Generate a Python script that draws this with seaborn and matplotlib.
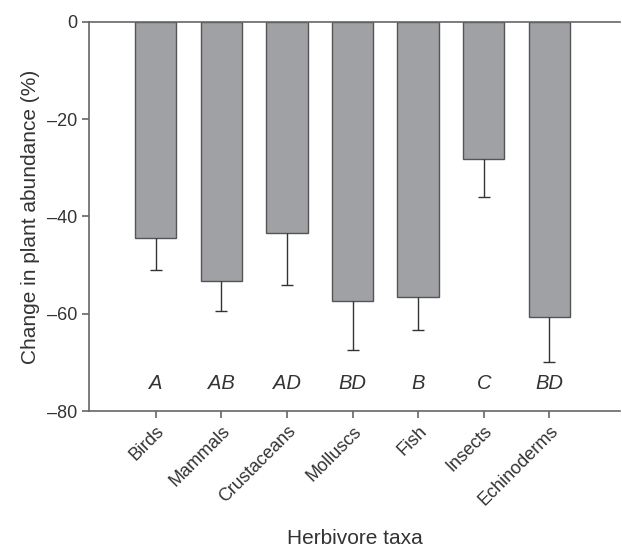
import numpy as np
import pandas as pd
import matplotlib
matplotlib.use("Agg")
import matplotlib.pyplot as plt
import seaborn as sns

# Data
taxa = ["Birds", "Mammals", "Crustaceans", "Molluscs", "Fish", "Insects", "Echinoderms"]
change = [-44.4, -53.2, -43.4, -57.3, -56.6, -28.2, -60.7]
err_low = [6.6, 6.2, 10.6, 10.2, 6.8, 7.8, 9.3]
groups = ["A", "AB", "AD", "BD", "B", "C", "BD"]

df = pd.DataFrame({"taxa": taxa, "change": change})
df["err_end"] = df["change"] - np.array(err_low)

sns.set_style("ticks")
plt.rcParams["font.family"] = ["Liberation Sans", "DejaVu Sans"]

axis_col = "#666666"
text_col = "#333333"

fig = plt.figure(figsize=(6.22, 5.48), dpi=100)
ax = fig.add_axes([0.143, 0.25, 0.854, 0.71])

sns.barplot(data=df, x="taxa", y="change", color="#a0a1a5", edgecolor="#555555",
            linewidth=1.0, width=0.63, saturation=1, errorbar=None, ax=ax)

# one-sided (downward) error bars: stem + cap at the lower end only
xpos = np.arange(len(taxa))
ax.vlines(xpos, df["change"], df["err_end"], color="#333333", linewidth=1.0)
ax.plot(xpos, df["err_end"], linestyle="none", marker="_", markersize=8.6,
        markeredgewidth=1.0, color="#333333")

# significance letters
for i, g in enumerate(groups):
    ax.text(i, -74.3, g, ha="center", va="center", fontsize=14.5, style="italic", color=text_col)

ax.set_ylim(-80, 0)
ax.set_xlim(-1.02, 7.08)
ax.set_yticks([0, -20, -40, -60, -80])
ax.set_yticklabels(["0", "\u201320", "\u201340", "\u201360", "\u201380"])
ax.set_xticks(xpos)
ax.set_xticklabels(taxa, rotation=45, ha="right", rotation_mode="anchor", fontsize=12.5)

ax.set_xlabel("Herbivore taxa", fontsize=15, color=text_col, labelpad=14)
ax.set_ylabel("Change in plant abundance (%)", fontsize=15, color=text_col, labelpad=5)

for side in ["left", "bottom", "top"]:
    ax.spines[side].set_color(axis_col)
    ax.spines[side].set_linewidth(1.2)
ax.spines["right"].set_visible(False)
ax.tick_params(axis="both", colors=axis_col, labelcolor=text_col, labelsize=13,
               length=5, width=1.2, direction="out")

plt.savefig("out.png", dpi=100)
